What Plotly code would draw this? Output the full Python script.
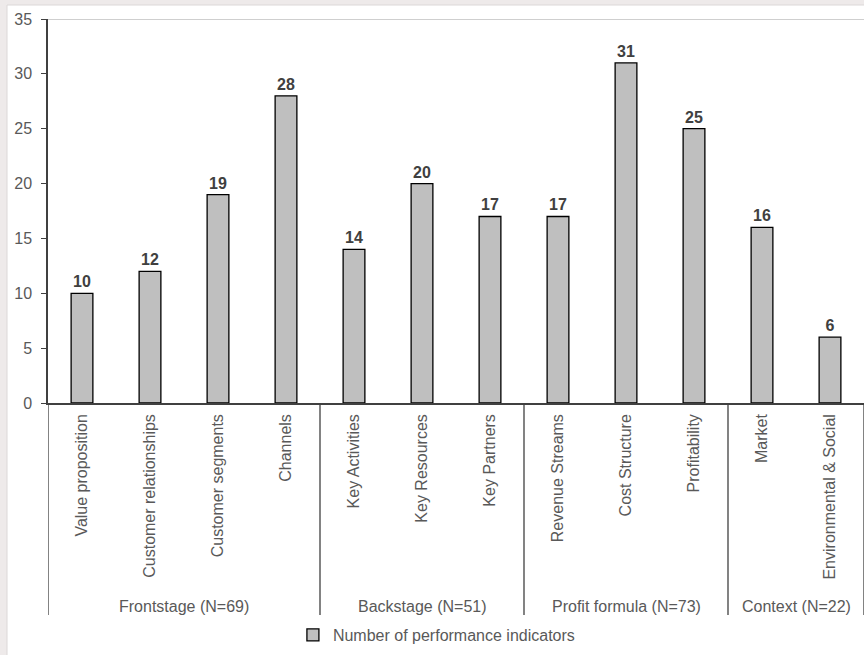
import plotly.graph_objects as go

categories = ["Value proposition", "Customer relationships", "Customer segments", "Channels",
              "Key Activities", "Key Resources", "Key Partners",
              "Revenue Streams", "Cost Structure", "Profitability",
              "Market", "Environmental & Social"]
values = [10, 12, 19, 28, 14, 20, 17, 17, 31, 25, 16, 6]
groups = ["Frontstage (N=69)", "Backstage (N=51)", "Profit formula (N=73)", "Context (N=22)"]
group_sizes = [4, 3, 3, 2]
series_name = "Number of performance indicators"
y_ticks = [0, 5, 10, 15, 20, 25, 30, 35]

W, H = 864, 655
L, R, T, B = 48, 0, 19, 252
plot_w = W - L - R
plot_h = H - T - B

FONT = "Liberation Sans, Arial, sans-serif"
TXT = "#595959"

fig = go.Figure()
fig.add_trace(go.Bar(
    x=categories, y=values, name=series_name,
    marker=dict(color="#bfbfbf", line=dict(color="#000000", width=1.3)),
    width=0.32,
    text=values, texttemplate="<b>%{text}</b>", textposition="outside",
    textfont=dict(family=FONT, size=16, color="#404040"),
    cliponaxis=False, showlegend=True,
))

shapes = []
# white chart background on gray page
shapes.append(dict(type="rect", xref="paper", yref="paper", layer="below",
                   x0=(7 - L) / plot_w, x1=(W + 20 - L) / plot_w,
                   y0=-(H + 20 - T - plot_h) / plot_h, y1=1 + (T - 5) / plot_h,
                   fillcolor="white", line=dict(color="#dcd8d8", width=1)))
# top line at max
shapes.append(dict(type="line", xref="paper", yref="y", x0=0, x1=1, y0=35, y1=35,
                   line=dict(color="#bfbfbf", width=1.5), layer="below"))
# group dividers
div_bottom = -(615 - (T + plot_h)) / plot_h
pos = -0.5
bounds = [pos]
for s in group_sizes:
    pos += s
    bounds.append(pos)
for b in bounds:
    shapes.append(dict(type="line", xref="x", yref="paper", x0=b, x1=b, y0=0, y1=div_bottom,
                       line=dict(color="#404040", width=1.3)))

annotations = []
for i, g in enumerate(groups):
    cx = (bounds[i] + bounds[i + 1]) / 2
    annotations.append(dict(x=cx, xref="x", y=-(606 - (T + plot_h)) / plot_h, yref="paper",
                            text=g, showarrow=False, xanchor="center", yanchor="middle",
                            font=dict(family=FONT, size=16, color=TXT)))

fig.update_layout(
    width=W, height=H,
    margin=dict(l=L, r=R, t=T, b=B),
    paper_bgcolor="#eeeaea", plot_bgcolor="rgba(0,0,0,0)",
    font=dict(family=FONT, size=16, color=TXT),
    shapes=shapes, annotations=annotations,
    bargap=0.68,
    legend=dict(orientation="h", x=0.476, xanchor="center", y=-(635 - (T + plot_h)) / plot_h,
                yanchor="middle", font=dict(family=FONT, size=16, color=TXT),
                bgcolor="rgba(0,0,0,0)", itemwidth=30),
    xaxis=dict(type="category", range=[-0.5, len(categories) - 0.5],
               showline=True, linecolor="#404040", linewidth=1.5,
               ticks="", tickangle=-90, showgrid=False, zeroline=False,
               tickfont=dict(family=FONT, size=16, color=TXT), ticklabelstandoff=3),
    yaxis=dict(range=[0, 35], tickvals=y_ticks, showline=True, linecolor="#404040", linewidth=1.5,
               ticks="outside", ticklen=5, tickcolor="#404040", tickwidth=1.3,
               showgrid=False, zeroline=False, ticklabelstandoff=6,
               tickfont=dict(family=FONT, size=16, color=TXT)),
)

fig.write_html("out.html")
